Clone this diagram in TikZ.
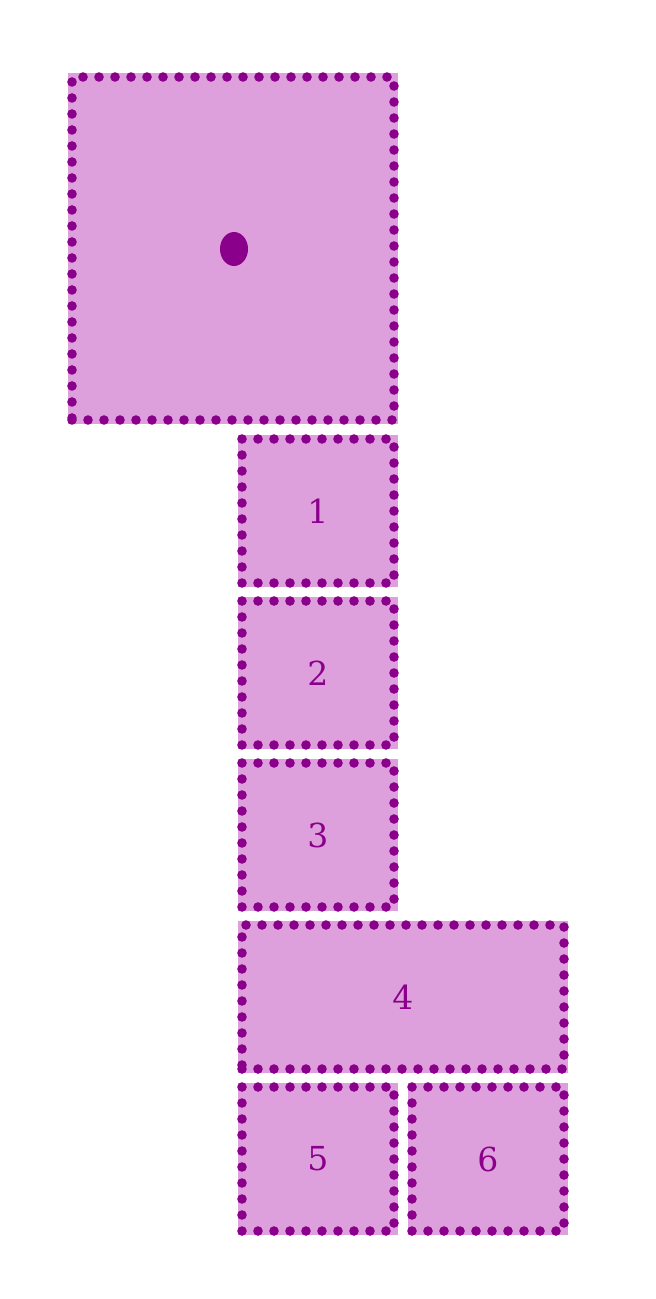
\documentclass[tikz,border=0pt]{standalone}
\usepackage{fontspec}
\setmainfont{DejaVu Serif}
\usepackage{tikz}
\usetikzlibrary{shapes.geometric,positioning}
\usepackage{xcolor}
\definecolor{dfplum}{RGB}{221,160,221}
\definecolor{dfmagenta}{RGB}{139,0,139}
\tikzstyle{cell} = [rectangle, minimum width=3.8cm, minimum height=3.6cm, inner sep=0pt, fill=dfplum, draw=dfmagenta, line width=0.24cm, dash pattern=on 0pt off 0.4cm, line cap=round, preaction={draw=dfplum, line width=0.22cm, solid}, text=dfmagenta, font=\fontsize{23.5}{28}\selectfont]
\tikzstyle{pt} = [ellipse, minimum width=0.7cm, minimum height=0.85cm, inner sep=0pt, fill=dfmagenta]

\begin{document}
\begin{tikzpicture}
\useasboundingbox (0,0) rectangle (16.4,-32.475);
% Start cell
\node[cell, minimum width=8.05cm, minimum height=8.575cm] (start) at (5.825,-6.2125) {};
\node[pt] (dot) at (5.85,-6.225) {};

% Column of cells
\node[cell] (c1) at (7.95,-12.775) {1};
\node[cell] (c2) at (7.95,-16.825) {2};
\node[cell] (c3) at (7.95,-20.875) {3};
\node[cell, minimum width=8.05cm] (c4) at (10.075,-24.925) {4};
\node[cell] (c5) at (7.95,-28.975) {5};
\node[cell] (c6) at (12.2,-28.975) {6};
\end{tikzpicture}
\end{document}
